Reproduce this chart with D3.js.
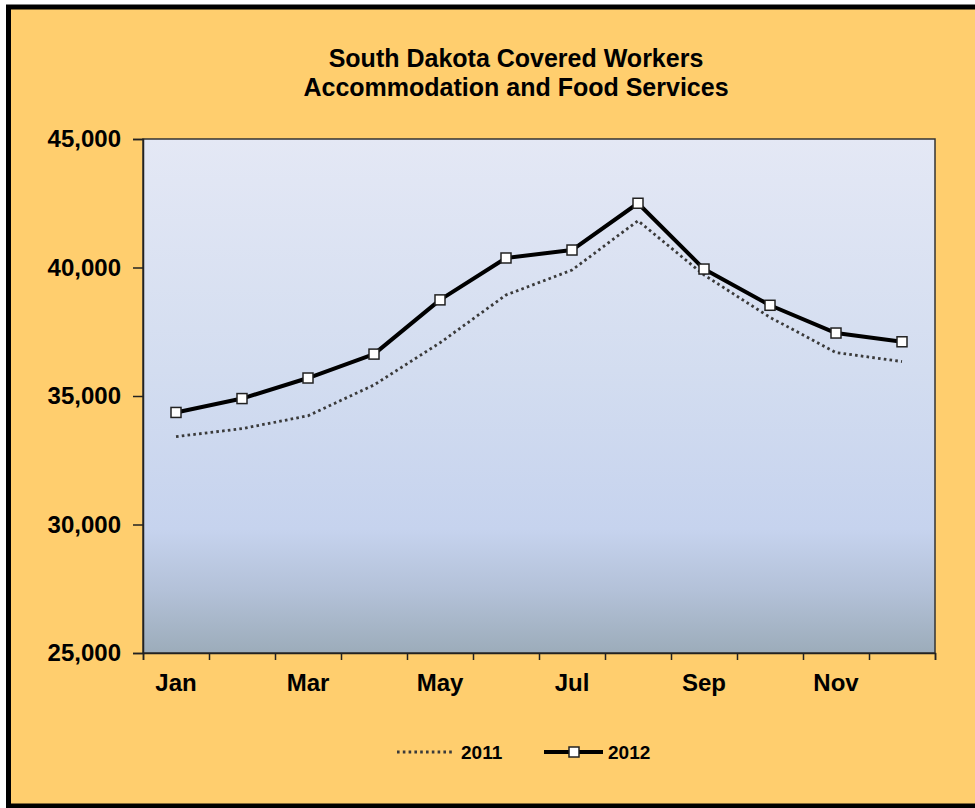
<!DOCTYPE html>
<html>
<head>
<meta charset="utf-8">
<script src="https://cdn.jsdelivr.net/npm/d3@7"></script>
<style>
  html, body { margin: 0; padding: 0; background: #ffffff; }
  svg { display: block; }
  text { font-family: "Liberation Sans", Arial, sans-serif; font-weight: bold; fill: #000; }
</style>
</head>
<body>
<svg id="chart" width="975" height="808"></svg>
<script>
// Covered workers by month, South Dakota accommodation and food services
const months = ["Jan", "Feb", "Mar", "Apr", "May", "Jun", "Jul", "Aug", "Sep", "Oct", "Nov", "Dec"];
const monthLabels = ["Jan", "Mar", "May", "Jul", "Sep", "Nov"];
const workers2011 = [33420, 33730, 34230, 35430, 37070, 38930, 39900, 41820, 39710, 38060, 36690, 36340];
const workers2012 = [34360, 34900, 35700, 36630, 38740, 40370, 40680, 42500, 39940, 38530, 37450, 37110];
const yTicks = [25000, 30000, 35000, 40000, 45000];
const titleLines = ["South Dakota Covered Workers", "Accommodation and Food Services"];
const seriesNames = ["2011", "2012"];

const svg = d3.select("#chart");
const W = 975, H = 808;
const plot = { left: 143, right: 935, top: 139, bottom: 653 };

// outer frame
svg.append("rect").attr("x", 0).attr("y", 0).attr("width", W).attr("height", H).attr("fill", "#ffffff");
svg.append("rect")
  .attr("x", 8.5).attr("y", 7).attr("width", 1000).attr("height", 799)
  .attr("fill", "#FFCE6E").attr("stroke", "#000").attr("stroke-width", 5);

// plot background gradient
const defs = svg.append("defs");
const grad = defs.append("linearGradient").attr("id", "plotBg")
  .attr("x1", 0).attr("y1", 0).attr("x2", 0).attr("y2", 1);
[["0%", "#E4E8F5"], ["45%", "#D3DDF0"], ["76%", "#C6D3EE"], ["88%", "#B3C1D8"], ["100%", "#9CACBA"]]
  .forEach(([o, c]) => grad.append("stop").attr("offset", o).attr("stop-color", c));

svg.append("rect")
  .attr("x", plot.left).attr("y", plot.top)
  .attr("width", plot.right - plot.left).attr("height", plot.bottom - plot.top)
  .attr("fill", "url(#plotBg)").attr("stroke", "#333").attr("stroke-width", 1.5);

// scales
const x = d3.scaleBand().domain(months).range([plot.left, plot.right]);
const xEdge = d3.scaleLinear().domain([0, months.length]).range([plot.left, plot.right]);
const y = d3.scaleLinear().domain([25000, 45000]).range([plot.bottom, plot.top]);
const cx = m => x(m) + x.bandwidth() / 2;

// y axis
const yAxis = svg.append("g").attr("transform", `translate(${plot.left},0)`)
  .call(d3.axisLeft(y).tickValues(yTicks).tickSize(10).tickPadding(12).tickFormat(d3.format(",")));
yAxis.select(".domain").attr("stroke", "#222").attr("stroke-width", 1.5);
yAxis.selectAll(".tick line").attr("stroke", "#222").attr("stroke-width", 1.5);
yAxis.selectAll(".tick text")
  .style("font-family", '"Liberation Sans", Arial, sans-serif')
  .style("font-weight", "bold").style("font-size", "24px").attr("fill", "#000");

// x axis: tick marks on category boundaries
const xAxis = svg.append("g").attr("transform", `translate(0,${plot.bottom})`)
  .call(d3.axisBottom(xEdge).tickValues(d3.range(0, months.length + 1)).tickSize(7).tickFormat(""));
xAxis.select(".domain").attr("stroke", "#222").attr("stroke-width", 1.5);
xAxis.selectAll(".tick line").attr("stroke", "#222").attr("stroke-width", 1.5);

svg.append("g").selectAll("text").data(monthLabels).join("text")
  .attr("x", d => cx(d)).attr("y", 691)
  .attr("text-anchor", "middle").style("font-size", "24px").text(d => d);

// title
svg.append("g").selectAll("text").data(titleLines).join("text")
  .attr("x", 516).attr("y", (d, i) => 67 + i * 29)
  .attr("text-anchor", "middle").style("font-size", "25px").text(d => d);

// lines
const line = d3.line().x((d, i) => cx(months[i])).y(d => y(d));

svg.append("path").datum(workers2011)
  .attr("d", line).attr("fill", "none")
  .attr("stroke", "#3a3a3a").attr("stroke-width", 2.8)
  .attr("stroke-dasharray", "2.6,3.2");

svg.append("path").datum(workers2012)
  .attr("d", line).attr("fill", "none")
  .attr("stroke", "#000").attr("stroke-width", 4).attr("stroke-linejoin", "round");

const mk = 10;
svg.append("g").selectAll("rect").data(workers2012).join("rect")
  .attr("x", (d, i) => cx(months[i]) - mk / 2).attr("y", d => y(d) - mk / 2)
  .attr("width", mk).attr("height", mk)
  .attr("fill", "#fff").attr("stroke", "#222").attr("stroke-width", 1.5);

// legend
const lg = svg.append("g");
lg.append("line").attr("x1", 397).attr("x2", 453).attr("y1", 752).attr("y2", 752)
  .attr("stroke", "#3a3a3a").attr("stroke-width", 2.8).attr("stroke-dasharray", "2.6,3.2");
lg.append("text").attr("x", 461).attr("y", 759).style("font-size", "19px").text(seriesNames[0]);
lg.append("line").attr("x1", 544).attr("x2", 603).attr("y1", 752).attr("y2", 752)
  .attr("stroke", "#000").attr("stroke-width", 4);
lg.append("rect").attr("x", 574 - mk / 2).attr("y", 752 - mk / 2).attr("width", mk).attr("height", mk)
  .attr("fill", "#fff").attr("stroke", "#222").attr("stroke-width", 1.5);
lg.append("text").attr("x", 608).attr("y", 759).style("font-size", "19px").text(seriesNames[1]);
</script>
</body>
</html>
